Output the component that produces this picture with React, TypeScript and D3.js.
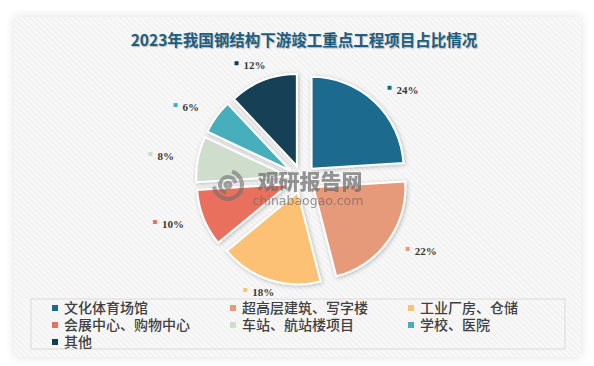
import React from "react";
import * as d3 from "d3";

const categories = [
  "文化体育场馆",
  "超高层建筑、写字楼",
  "工业厂房、仓储",
  "会展中心、购物中心",
  "车站、航站楼项目",
  "学校、医院",
  "其他",
];
const shares = [24, 22, 18, 10, 8, 6, 12];
const colors = ["#1b6a8e", "#e79a7a", "#fdc174", "#e8705d", "#cfddcc", "#46afbc", "#133f56"];
const title = "2023年我国钢结构下游竣工重点工程项目占比情况";

const W = 594;
const H = 366;

export default function App() {
  const cx = 302;
  const cy = 179;
  const radius = 92;
  const explode = 14;

  const pie = d3.pie<number>().value((d) => d).sort(null);
  const arc = d3.arc<d3.PieArcDatum<number>>().innerRadius(0).outerRadius(radius);
  const arcs = pie(shares);

  const mid = (d: d3.PieArcDatum<number>) => (d.startAngle + d.endAngle) / 2;

  const legendX = d3.scaleOrdinal<number, number>().domain([0, 1, 2]).range([52, 230, 408]);
  const legendY = d3.scaleOrdinal<number, number>().domain([0, 1, 2]).range([308, 325, 342]);

  // labels sit on an ellipse outside the pie, kept above the legend box
  const labelRx = radius * 1.58;
  const labelRy = radius * 1.33;
  const labelMaxY = 292 - cy;

  return (
    <svg width={W} height={H} style={{ position: "absolute", left: 0, top: 0 }}>
      <defs>
        <pattern id="stripes" width="4" height="4" patternUnits="userSpaceOnUse" patternTransform="rotate(-45)">
          <rect width="4" height="4" fill="#f8f8f8" />
          <line x1="0" y1="0" x2="0" y2="4" stroke="#ebebeb" strokeWidth="1.4" />
        </pattern>
        <filter id="panelShadow" x="-10%" y="-10%" width="120%" height="120%">
          <feDropShadow dx="0" dy="0" stdDeviation="5" floodColor="#000" floodOpacity="0.12" />
        </filter>
        <filter id="sliceShadow" x="-20%" y="-20%" width="140%" height="140%">
          <feDropShadow dx="1" dy="1" stdDeviation="2" floodColor="#000" floodOpacity="0.25" />
        </filter>
      </defs>
      <rect width={W} height={H} fill="#ffffff" />
      <rect x={14} y={17} width={567} height={340} fill="url(#stripes)" filter="url(#panelShadow)" />

      <text
        x={W / 2 + 7}
        y={46}
        textAnchor="middle"
        fontFamily="'Noto Sans CJK SC', sans-serif"
        fontWeight="bold"
        fontSize={15.5}
        fill="#1d5f82"
        style={{ textShadow: "1px 1px 1px rgba(0,0,0,0.25)" }}
      >
        {title}
      </text>

      <g transform={`translate(${cx},${cy})`}>
        {arcs.map((d, i) => {
          const a = mid(d);
          const dx = Math.sin(a) * explode;
          const dy = -Math.cos(a) * explode;
          return (
            <path
              key={i}
              d={arc(d) as string}
              transform={`translate(${dx},${dy})`}
              fill={colors[i]}
              stroke="#ffffff"
              strokeWidth={2}
              filter="url(#sliceShadow)"
            />
          );
        })}

        {/* watermark */}
        <g opacity={0.6} transform="translate(-74,6)">
          <g fill="none" stroke="#6f6f6f" strokeWidth={4}>
            <path d={d3.arc()({ innerRadius: 14, outerRadius: 14, startAngle: 0.3, endAngle: 4.6 }) as string} />
            <path d={d3.arc()({ innerRadius: 8, outerRadius: 8, startAngle: 3.4, endAngle: 7.6 }) as string} />
            <path d={d3.arc()({ innerRadius: 2.5, outerRadius: 2.5, startAngle: 0, endAngle: 6.28 }) as string} />
          </g>
        </g>
        <text
          x={8}
          y={10}
          textAnchor="middle"
          fontFamily="'Noto Sans CJK SC', sans-serif"
          fontWeight="900"
          fontSize={21}
          fill="#6a6a6a"
          opacity={0.7}
        >
          观研报告网
        </text>
        <text
          x={6}
          y={26}
          textAnchor="middle"
          fontFamily="'DejaVu Sans', sans-serif"
          fontSize={12.5}
          fill="#6a6a6a"
          opacity={0.7}
        >
          chinabaogao.com
        </text>

        {arcs.map((d, i) => {
          const a = mid(d);
          const px = Math.sin(a) * labelRx;
          const py = Math.min(-Math.cos(a) * labelRy, labelMaxY);
          const label = `${shares[i]}%`;
          const w = 9 + label.length * 6.3;
          const x0 = px - w / 2;
          return (
            <g key={"l" + i}>
              <rect x={x0} y={py - 4} width={4} height={4} fill={colors[i]} />
              <text
                x={x0 + 9}
                y={py + 4}
                fontFamily="'Liberation Serif', serif"
                fontWeight="bold"
                fontSize={11}
                fill="#3a3a3a"
              >
                {label}
              </text>
            </g>
          );
        })}
      </g>

      <rect x={31} y={299} width={534} height={50} fill="none" stroke="#d9d9d9" strokeWidth={1} />
      {categories.map((c, i) => {
        const col = i % 3;
        const row = Math.floor(i / 3);
        const x = legendX(col);
        const y = legendY(row);
        return (
          <g key={"lg" + i}>
            <rect x={x} y={y - 3} width={6} height={6} fill={colors[i]} />
            <text
              x={x + 12}
              y={y + 5}
              fontFamily="'Noto Sans CJK SC', sans-serif"
              fontSize={14}
              fontWeight={500}
              fill="#404040"
            >
              {c}
            </text>
          </g>
        );
      })}
    </svg>
  );
}
